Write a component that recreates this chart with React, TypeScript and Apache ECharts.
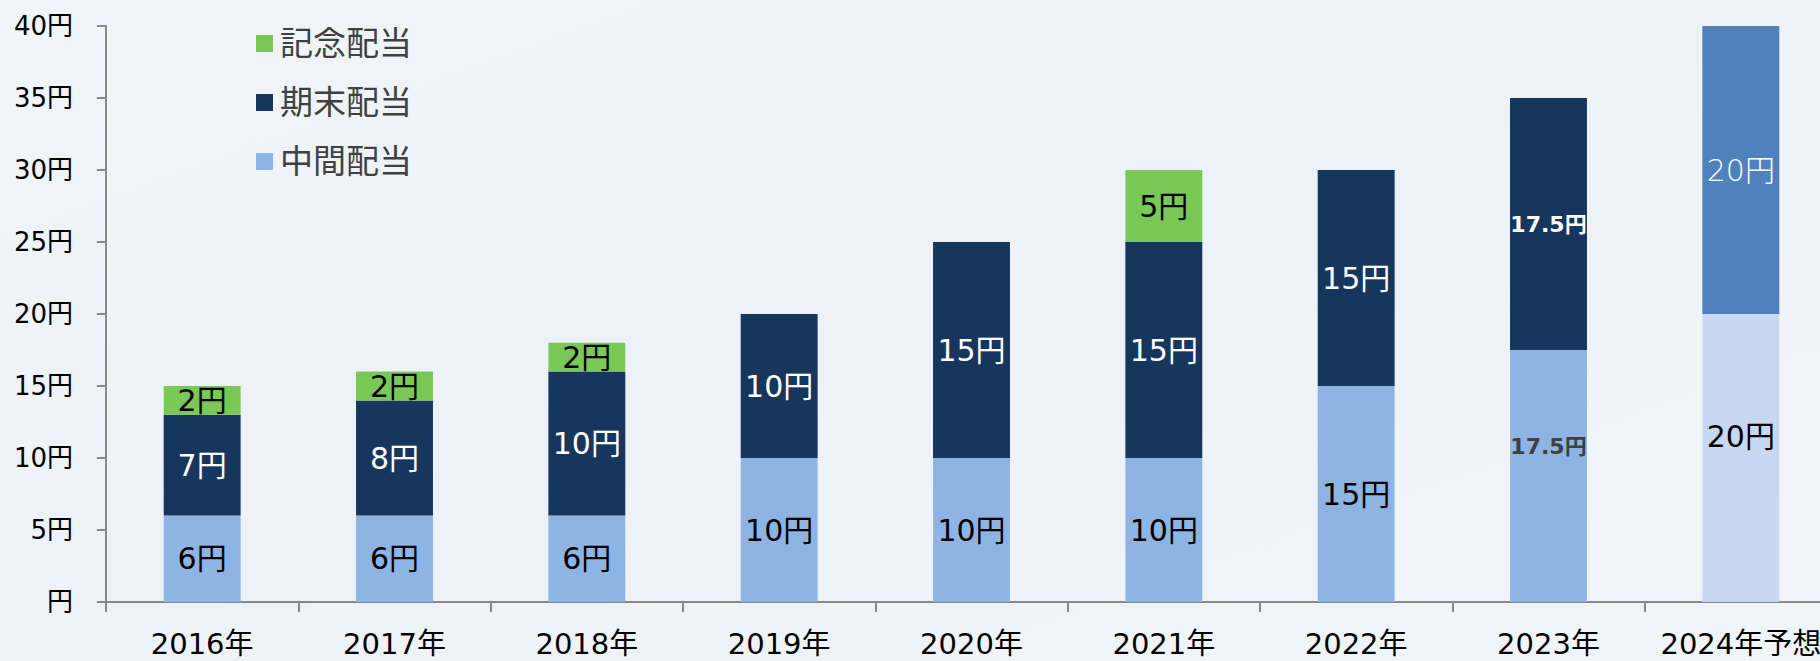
import React, { useEffect, useRef } from "react";
import * as echarts from "echarts";

const categories = ["2016年", "2017年", "2018年", "2019年", "2020年", "2021年", "2022年", "2023年", "2024年予想"];
const interimValues = [6, 6, 6, 10, 10, 10, 15, 17.5, 20];
const yearEndValues = [7, 8, 10, 10, 15, 15, 15, 17.5, 20];
const commemorativeValues: (number | null)[] = [2, 2, 2, null, null, 5, null, null, null];
const yTicks = [0, 5, 10, 15, 20, 25, 30, 35, 40];

const FONT = '"DejaVu Sans", "Noto Sans CJK JP", sans-serif';
const C_GREEN = "#7AC858";
const C_NAVY = "#17365D";
const C_LIGHT = "#8EB4E3";
const C_2024_TOP = "#4F81BD";
const C_2024_BOT = "#C6D9F1";

export default function App() {
  const ref = useRef<HTMLDivElement>(null);
  useEffect(() => {
    if (!ref.current) return;
    const chart = echarts.init(ref.current, null, { renderer: "svg" });
    const last = categories.length - 1;

    const interimData = interimValues.map((v, i) => {
      if (i === last) {
        return {
          value: v,
          itemStyle: { color: C_2024_BOT },
          label: { offset: [0, -22] },
        };
      }
      if (i === 7) {
        return {
          value: v,
          label: { fontSize: 22, fontWeight: "bold", color: "#404040", offset: [0, -30] },
        };
      }
      return v;
    });
    const yearEndData = yearEndValues.map((v, i) => {
      if (i === last) {
        return {
          value: v,
          itemStyle: { color: C_2024_TOP },
          label: { fontWeight: 300, color: "#ffffff" },
        };
      }
      if (i === 7) {
        return { value: v, label: { fontSize: 22, fontWeight: "bold", color: "#ffffff" } };
      }
      return v;
    });
    const commData = commemorativeValues.map((v) => (v == null ? "-" : v));

    chart.setOption({
      animation: false,
      backgroundColor: {
        type: "linear",
        x: 0, y: 0, x2: 1, y2: 1,
        colorStops: [
          { offset: 0, color: "#F1F4F8" },
          { offset: 0.5, color: "#EDF2F8" },
          { offset: 1, color: "#F1F5F9" },
        ],
      },
      textStyle: { fontFamily: FONT },
      grid: {
        left: 106,
        top: 26,
        bottom: 59,
        width: 1731,
        containLabel: false,
        outerBoundsMode: "none",
      },
      legend: {
        orient: "vertical",
        left: 251,
        top: 22,
        itemWidth: 17,
        itemHeight: 17,
        itemGap: 26,
        icon: "rect",
        data: ["記念配当", "期末配当", "中間配当"],
        textStyle: { fontSize: 33, lineHeight: 33, color: "#404040", fontFamily: FONT, padding: [0, 0, 0, 2] },
      },
      xAxis: {
        type: "category",
        data: categories,
        axisLine: { lineStyle: { color: "#888888", width: 2 } },
        axisTick: { show: true, length: 10, lineStyle: { color: "#888888", width: 2 } },
        axisLabel: { fontSize: 29, color: "#000000", margin: 27, fontFamily: FONT, interval: 0 },
      },
      yAxis: {
        type: "value",
        min: yTicks[0],
        max: yTicks[yTicks.length - 1],
        interval: 5,
        splitLine: { show: false },
        axisLine: { show: true, lineStyle: { color: "#888888", width: 2 } },
        axisTick: { show: true, length: 9, lineStyle: { color: "#888888", width: 2 } },
        axisLabel: {
          fontSize: 26,
          color: "#000000",
          margin: 33,
          fontFamily: FONT,
          formatter: (v: number) => (v === 0 ? "円" : `${v}円`),
        },
      },
      series: [
        {
          name: "中間配当",
          type: "bar",
          stack: "div",
          barWidth: "40%",
          itemStyle: { color: C_LIGHT },
          label: { show: true, position: "inside", formatter: "{c}円", fontSize: 30, color: "#000000", fontFamily: FONT },
          data: interimData,
        },
        {
          name: "期末配当",
          type: "bar",
          stack: "div",
          barWidth: "40%",
          itemStyle: { color: C_NAVY },
          label: { show: true, position: "inside", formatter: "{c}円", fontSize: 30, color: "#ffffff", fontFamily: FONT },
          data: yearEndData,
        },
        {
          name: "記念配当",
          type: "bar",
          stack: "div",
          barWidth: "40%",
          itemStyle: { color: C_GREEN },
          label: { show: true, position: "inside", formatter: "{c}円", fontSize: 30, color: "#000000", fontFamily: FONT },
          data: commData,
        },
      ],
    });
    return () => chart.dispose();
  }, []);
  return (
    <div
      ref={ref}
      style={{ position: "fixed", left: 0, top: 0, width: 1820, height: 661, overflow: "hidden" }}
    />
  );
}
